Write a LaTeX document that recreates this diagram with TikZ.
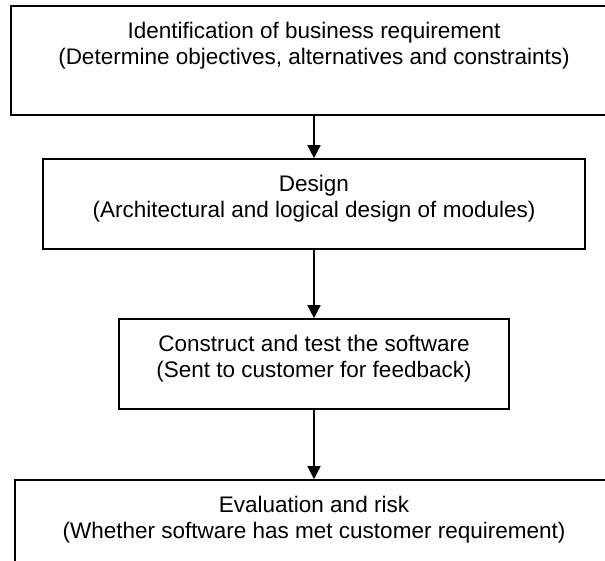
\documentclass[tikz,border=0pt]{standalone}
\usepackage{fontspec}
\setmainfont{Liberation Sans}
\usetikzlibrary{arrows.meta}
\tikzset{
  stagebox/.style={draw=black, line width=1.6pt, rectangle, inner sep=0pt, fill=none},
  stagetext/.style={anchor=north, inner sep=0pt, align=center, font=\fontsize{22.5}{25.5}\selectfont},
  flowarrow/.style={draw=black, line width=1.4pt, -{Triangle[width=13pt,length=13pt]}}
}
\begin{document}
\begin{tikzpicture}[x=1pt,y=-1pt]
\useasboundingbox (0,0) rectangle (605,561);
\clip (0,0) rectangle (605,561);
% boxes
\node[stagebox, minimum width=606pt, minimum height=109pt] (b1) at (314,60.5) {};
\node[stagebox, minimum width=542pt, minimum height=90pt] (b2) at (314,204) {};
\node[stagebox, minimum width=390pt, minimum height=90pt] (b3) at (314,364) {};
\node[stagebox, minimum width=598pt, minimum height=110pt] (b4) at (314,535) {};
% texts
\node[stagetext] (t1) at (314,22) {Identification of business requirement\\(Determine objectives, alternatives and constraints)};
\node[stagetext] (t2) at (314,175) {Design\\(Architectural and logical design of modules)};
\node[stagetext] (t3) at (314,335) {Construct and test the software\\(Sent to customer for feedback)};
\node[stagetext] (t4) at (314,496) {Evaluation and risk\\(Whether software has met customer requirement)};
% arrows
\draw[flowarrow] (b1.south) -- (b2.north);
\draw[flowarrow] (b2.south) -- (b3.north);
\draw[flowarrow] (b3.south) -- (b4.north);
\end{tikzpicture}
\end{document}
